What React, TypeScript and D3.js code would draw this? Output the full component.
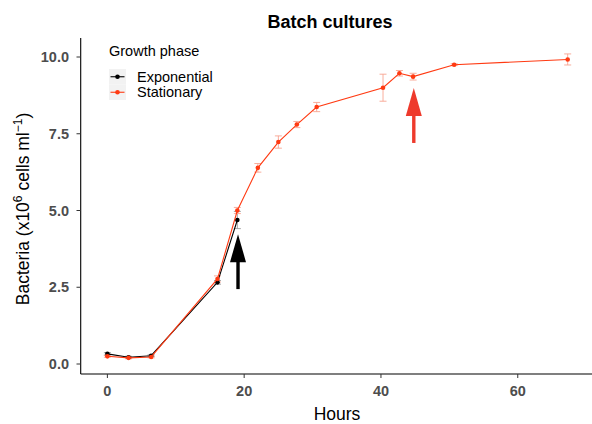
import * as d3 from 'd3';

// hours sampled for each growth phase
const expHours = [0, 3.1, 6.4, 16.1, 19.0];
const expValues = [0.33, 0.22, 0.27, 2.66, 4.69];
const expErrors = [0.04, 0.03, 0.03, 0.06, 0.28];

const statHours = [0, 3.1, 6.4, 16.1, 19.0, 22.0, 25.0, 27.7, 30.6, 40.3, 42.7, 44.7, 50.7, 67.3];
const statValues = [0.25, 0.2, 0.23, 2.77, 5.0, 6.39, 7.23, 7.8, 8.37, 9.0, 9.47, 9.36, 9.75, 9.92];
const statErrors = [0.03, 0.03, 0.03, 0.1, 0.1, 0.14, 0.2, 0.1, 0.15, 0.44, 0.09, 0.11, 0.03, 0.18];

const xTicks = [0, 20, 40, 60];
const yTicks = [0, 2.5, 5, 7.5, 10];

// arrows: [hour, tail value, tip value]
const blackArrow = [19.1, 2.44, 4.23];
const redArrow = [44.8, 7.2, 8.99];

const RED = '#ff3a12';
const RED_ERR = '#f7a491';
const FONT = '"Liberation Sans", Arial, Helvetica, sans-serif';

const W = 592;
const H = 424;

const Arrow = ({ x, y0, y1, color }: { x: number; y0: number; y1: number; color: string }) => {
  const headH = 28;
  const headW = 16;
  const shaft = 3.4;
  return (
    <g fill={color}>
      <rect x={x - shaft / 2} y={y1 + headH - 1} width={shaft} height={y0 - y1 - headH + 1} />
      <path d={`M${x},${y1} L${x + headW / 2},${y1 + headH} L${x - headW / 2},${y1 + headH} Z`} />
    </g>
  );
};

export default function App() {
  const x = d3.scaleLinear().domain([-3.9, 71]).range([80.7, 593]);
  const y = d3.scaleLinear().domain([0, 10]).range([364, 57]);
  const yBottom = 374;
  const yTop = 38;

  const line = d3
    .line<[number, number]>()
    .x((d) => x(d[0]))
    .y((d) => y(d[1]));

  const expPts: [number, number][] = expHours.map((h, i) => [h, expValues[i]]);
  const statPts: [number, number][] = statHours.map((h, i) => [h, statValues[i]]);

  const errBars = (hours: number[], vals: number[], errs: number[], color: string) =>
    hours.map((h, i) => {
      const cx = x(h);
      const t = y(vals[i] + errs[i]);
      const b = y(vals[i] - errs[i]);
      return (
        <g key={i} stroke={color} strokeWidth={0.9}>
          <line x1={cx} x2={cx} y1={t} y2={b} />
          <line x1={cx - 3.5} x2={cx + 3.5} y1={t} y2={t} />
          <line x1={cx - 3.5} x2={cx + 3.5} y1={b} y2={b} />
        </g>
      );
    });

  return (
    <svg width={W} height={H} style={{ position: 'absolute', left: 0, top: 0, background: '#fff' }} fontFamily={FONT}>
      <text x={330} y={28} textAnchor="middle" fontSize={18} fontWeight="bold">
        Batch cultures
      </text>

      {/* axes */}
      <line x1={80.7} x2={80.7} y1={yTop} y2={yBottom} stroke="#000" strokeWidth={1.1} />
      <line x1={80.7} x2={W} y1={yBottom} y2={yBottom} stroke="#000" strokeWidth={1.1} />
      {yTicks.map((t) => (
        <g key={t}>
          <line x1={76.5} x2={80.7} y1={y(t)} y2={y(t)} stroke="#333" />
          <text x={69} y={y(t)} dy="0.36em" textAnchor="end" fontSize={14.5} fontWeight="bold" fill="#4d4d4d">
            {t.toFixed(1)}
          </text>
        </g>
      ))}
      {xTicks.map((t) => (
        <g key={t}>
          <line x1={x(t)} x2={x(t)} y1={yBottom} y2={yBottom + 4} stroke="#333" />
          <text x={x(t)} y={396} textAnchor="middle" fontSize={14.5} fontWeight="bold" fill="#4d4d4d">
            {t}
          </text>
        </g>
      ))}
      <text x={337} y={420} textAnchor="middle" fontSize={17.5}>
        Hours
      </text>
      <text transform="translate(29,209) rotate(-90)" textAnchor="middle" fontSize={17.5}>
        Bacteria (x10
        <tspan fontSize={12} dy={-7}>6</tspan>
        <tspan dy={7}> cells ml</tspan>
        <tspan fontSize={12} dy={-7}>−1</tspan>
        <tspan dy={7}>)</tspan>
      </text>

      {/* data */}
      {errBars(expHours, expValues, expErrors, '#9a9a9a')}
      {errBars(statHours, statValues, statErrors, RED_ERR)}
      <path d={line(expPts) ?? ''} fill="none" stroke="#000" strokeWidth={1.1} />
      {expPts.map((d, i) => (
        <circle key={i} cx={x(d[0])} cy={y(d[1])} r={2.3} fill="#000" />
      ))}
      <path d={line(statPts) ?? ''} fill="none" stroke={RED} strokeWidth={1.1} />
      {statPts.map((d, i) => (
        <circle key={i} cx={x(d[0])} cy={y(d[1])} r={2.3} fill={RED} />
      ))}

      <Arrow x={x(blackArrow[0])} y0={y(blackArrow[1])} y1={y(blackArrow[2])} color="#000" />
      <Arrow x={x(redArrow[0])} y0={y(redArrow[1])} y1={y(redArrow[2])} color="#ee3a2c" />

      {/* legend */}
      <text x={109} y={56} fontSize={14.5}>
        Growth phase
      </text>
      {[
        { label: 'Exponential', color: '#000' },
        { label: 'Stationary', color: RED },
      ].map((d, i) => (
        <g key={d.label} transform={`translate(109,${69 + i * 15.5})`}>
          <rect width={17} height={15.5} fill="#f2f2f2" />
          <line x1={1.5} x2={15.5} y1={7.75} y2={7.75} stroke={d.color} strokeWidth={1.1} />
          <circle cx={8.5} cy={7.75} r={2.3} fill={d.color} />
          <text x={28} y={12.5} fontSize={14.5}>
            {d.label}
          </text>
        </g>
      ))}
    </svg>
  );
}
